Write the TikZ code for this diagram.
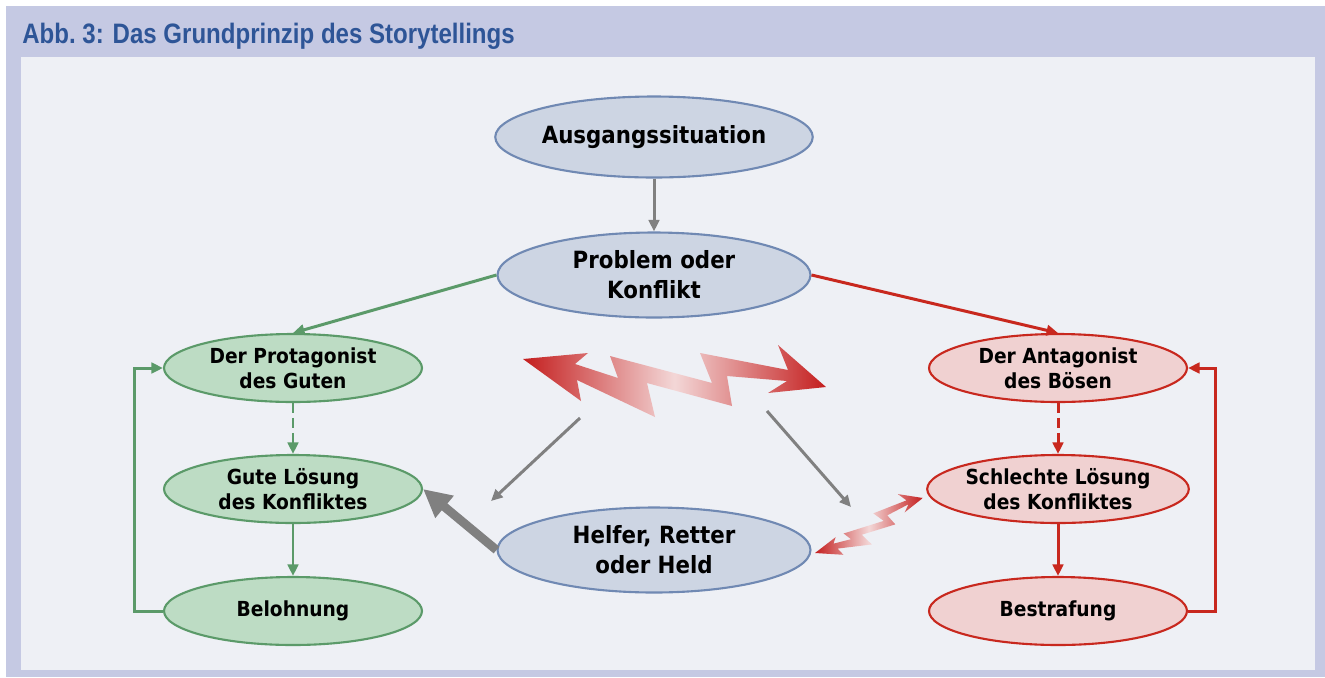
\documentclass[tikz,border=0pt]{standalone}
\usepackage{fontspec}
\setmainfont{DejaVu Sans}[FakeStretch=0.9]
\newfontfamily\titlefont{Liberation Sans}[FakeStretch=0.855]
\usepackage{tikz}
\usetikzlibrary{shapes,arrows.meta}

\definecolor{framebg}{HTML}{C5C9E3}
\definecolor{panelbg}{HTML}{EEF0F5}
\definecolor{titleblue}{HTML}{2E5597}
\definecolor{bluefill}{HTML}{CDD5E3}
\definecolor{blueline}{HTML}{7089B3}
\definecolor{greenfill}{HTML}{BDDCC4}
\definecolor{greenline}{HTML}{5B9A69}
\definecolor{redfill}{HTML}{F0D1D1}
\definecolor{redline}{HTML}{C8281E}
\definecolor{boltred}{HTML}{C41E1E}
\definecolor{boltpink}{HTML}{F3D7D7}
\definecolor{arrowgray}{HTML}{808080}

\tikzstyle{bluebox} = [ellipse, draw=blueline, fill=bluefill, line width=1.2pt, minimum width=6.26cm, minimum height=1.7cm, inner sep=0pt, align=center, font=\fontsize{13.5}{17}\selectfont\bfseries]
\tikzstyle{greenbox} = [ellipse, draw=greenline, fill=greenfill, line width=1.2pt, minimum width=5.16cm, minimum height=1.36cm, inner sep=0pt, align=center, font=\fontsize{11.8}{14}\selectfont\bfseries]
\tikzstyle{redbox} = [greenbox, draw=redline, fill=redfill]
\tikzstyle{grayarrow} = [line width=1.7pt, draw=arrowgray, -{Triangle[length=2.3mm,width=2.1mm]}]
\tikzstyle{greenarrow} = [line width=1.7pt, draw=greenline, -{Triangle[length=2.3mm,width=2.1mm]}]
\tikzstyle{redarrow} = [line width=1.7pt, draw=redline, -{Triangle[length=2.3mm,width=2.1mm]}]
\tikzstyle{thickarrow} = [line width=5pt, draw=arrowgray, -{Triangle[length=5.6mm,width=5.4mm]}]
\tikzstyle{bolt} = [left color=boltred, right color=boltred, middle color=boltpink]

\begin{document}
\begin{tikzpicture}[x=0.02cm, y=-0.02cm]

    \useasboundingbox (0,0) rectangle (1325,677);

    % frame and panel
    \fill[framebg] (6,6) rectangle (1325,677);
    \fill[panelbg] (21,57) rectangle (1315,670);
    \node[anchor=base west, inner sep=0pt, text=titleblue, font=\titlefont\fontsize{16}{19}\selectfont\bfseries] (title) at (22,43) {Abb.~3: Das Grundprinzip des Storytellings};

    % middle column
    \node[bluebox, minimum height=1.62cm] (ausgang) at (654,137) {Ausgangssituation};
    \node[bluebox] (problem) at (654,275) {Problem oder\\Konflikt};
    \node[bluebox] (helfer) at (654,550) {Helfer, Retter\\oder Held};

    % the good side
    \node[greenbox] (protag) at (293,368) {Der Protagonist\\des Guten};
    \node[greenbox] (gute) at (293,489) {Gute Lösung\\des Konfliktes};
    \node[greenbox] (beloh) at (293,611) {Belohnung};

    % the bad side
    \node[redbox] (antag) at (1058,368) {Der Antagonist\\des Bösen};
    \node[redbox] (schlecht) at (1058,489) {Schlechte Lösung\\des Konfliktes};
    \node[redbox] (bestraf) at (1058,611) {Bestrafung};

    % conflict bolt
    \shade[bolt] (523,359) -- (588,353) -- (575,364) -- (618,378) -- (610,356) -- (712,383) -- (700,353) -- (788,370) -- (778,345) -- (826,387) -- (768,393) -- (787,381) -- (727,376) -- (732,406) -- (647,383) -- (655,417) -- (577,380) -- (581,401) -- cycle;

    % small bolt, helper <-> bad solution
    \begin{scope}[shift={(815,553)}, rotate=32.3, scale=0.398, shift={(-523,-359)}]
        \shade[bolt] (523,359) -- (588,353) -- (575,364) -- (618,378) -- (610,356) -- (712,383) -- (700,353) -- (788,370) -- (778,345) -- (826,387) -- (768,393) -- (787,381) -- (727,376) -- (732,406) -- (647,383) -- (655,417) -- (577,380) -- (581,401) -- cycle;
    \end{scope}

    \coordinate (boltl) at (580,418);
    \coordinate (boltr) at (767,411);
    \coordinate (helfl) at (491,501);
    \coordinate (helfr) at (851,507);

    % arrows
    \draw[grayarrow] (ausgang) -- (problem);
    \draw[grayarrow] (boltl) -- (helfl);
    \draw[grayarrow] (boltr) -- (helfr);
    \draw[thickarrow] (helfer.west) -- (gute.east);

    \draw[greenarrow] (problem.west) -- (protag.north);
    \draw[greenarrow, dash pattern=on 5.5pt off 3pt] (protag) -- (gute);
    \draw[greenarrow] (gute) -- (beloh);
    \draw[greenarrow] (beloh.west) -- ++(-28,0) |- (protag.west);

    \draw[redarrow] (problem.east) -- (antag.north);
    \draw[redarrow, dash pattern=on 5.5pt off 3pt] (antag) -- (schlecht);
    \draw[redarrow] (schlecht) -- (bestraf);
    \draw[redarrow] (bestraf.east) -- ++(27,0) |- (antag.east);

\end{tikzpicture}
\end{document}
